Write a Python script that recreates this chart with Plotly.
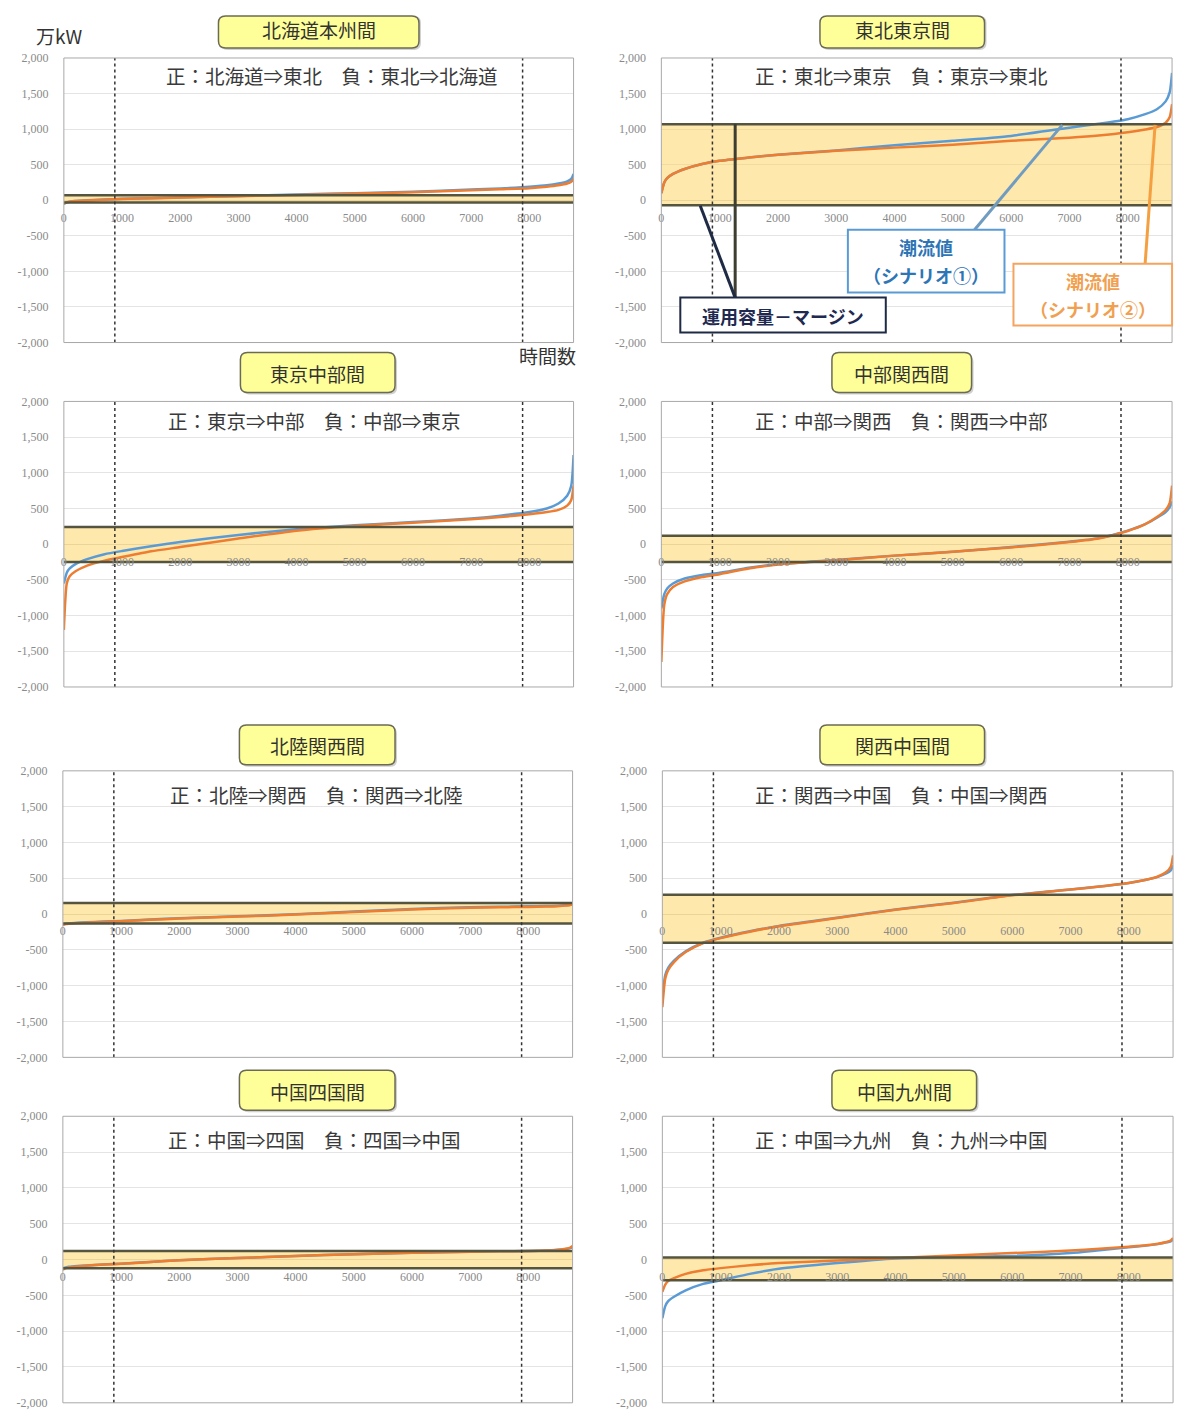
import plotly.graph_objects as go

# figure size (page offset of the body margin is 8 px)
OFF = 8
W, H = 1188, 1412

# ---------------- data ----------------
hours = [0, 50, 100, 200, 400, 700, 1000, 1500, 2000, 3000, 4000, 5000, 6000, 7000, 7500, 8000, 8300, 8500, 8650, 8720, 8760]

panel_titles = ["北海道本州間", "東北東京間", "東京中部間", "中部関西間",
                "北陸関西間", "関西中国間", "中国四国間", "中国九州間"]
direction_labels = [
    "正：北海道⇒東北　負：東北⇒北海道",
    "正：東北⇒東京　負：東京⇒東北",
    "正：東京⇒中部　負：中部⇒東京",
    "正：中部⇒関西　負：関西⇒中部",
    "正：北陸⇒関西　負：関西⇒北陸",
    "正：関西⇒中国　負：中国⇒関西",
    "正：中国⇒四国　負：四国⇒中国",
    "正：中国⇒九州　負：九州⇒中国",
]

# operating capacity minus margin (upper / lower), 万kW
band_upper = [70, 1070, 240, 120, 155, 270, 120, 30]
band_lower = [-30, -70, -250, -250, -130, -400, -120, -290]

# scenario 1 (blue) flow duration curves, 万kW
flow_s1 = [
    [-50, -30, -20, -10, 0, 10, 20, 30, 40, 60, 80, 100, 120, 150, 165, 190, 210, 235, 265, 300, 370],
    [100, 250, 310, 370, 440, 510, 555, 600, 640, 700, 775, 835, 905, 1020, 1075, 1140, 1210, 1280, 1390, 1520, 1790],
    [-550, -400, -340, -280, -210, -140, -95, -30, 30, 130, 210, 265, 310, 360, 400, 450, 500, 570, 680, 820, 1250],
    [-900, -700, -620, -550, -480, -430, -400, -330, -280, -220, -160, -105, -40, 35, 85, 190, 280, 370, 450, 520, 600],
    [-145, -135, -130, -123, -115, -105, -95, -75, -58, -30, -2, 35, 70, 97, 102, 108, 112, 117, 125, 130, 140],
    [-1150, -850, -750, -650, -520, -400, -330, -240, -165, -50, 65, 160, 265, 345, 385, 435, 480, 520, 570, 610, 680],
    [-120, -110, -100, -95, -82, -68, -58, -35, -10, 20, 50, 75, 95, 110, 115, 120, 125, 135, 148, 160, 175],
    [-820, -650, -580, -520, -430, -340, -290, -200, -130, -50, 15, 35, 50, 90, 130, 170, 195, 215, 240, 255, 280],
]
# scenario 2 (orange)
flow_s2 = [
    [-45, -30, -22, -12, -3, 8, 18, 28, 38, 58, 75, 95, 112, 140, 155, 170, 190, 210, 235, 260, 300],
    [100, 250, 310, 370, 440, 510, 555, 600, 640, 695, 740, 780, 835, 880, 910, 955, 995, 1030, 1090, 1170, 1350],
    [-1200, -550, -450, -380, -300, -230, -180, -100, -40, 80, 190, 255, 300, 350, 380, 420, 450, 480, 540, 620, 820],
    [-1650, -850, -700, -600, -520, -460, -420, -340, -285, -225, -160, -105, -45, 30, 80, 185, 280, 380, 480, 580, 820],
    [-150, -140, -135, -128, -120, -110, -100, -80, -63, -35, -7, 30, 63, 90, 95, 100, 105, 110, 120, 125, 135],
    [-1300, -900, -780, -670, -530, -405, -335, -245, -170, -55, 60, 155, 262, 342, 385, 435, 480, 525, 590, 660, 820],
    [-140, -120, -110, -100, -85, -70, -60, -35, -10, 20, 50, 75, 95, 110, 115, 120, 125, 135, 150, 165, 190],
    [-450, -350, -300, -260, -200, -150, -120, -80, -50, -15, 20, 55, 90, 125, 150, 180, 200, 220, 245, 265, 300],
]

percentile_hours = [876, 7884]          # dotted reference lines (10% / 90%)
x_ticks = [0, 1000, 2000, 3000, 4000, 5000, 6000, 7000, 8000]
y_ticks = [-2000, -1500, -1000, -500, 0, 500, 1000, 1500, 2000]
x_max = 8760

# ---------------- layout geometry (picture pixels) ----------------
plot_boxes = [  # left, top, right, bottom
    (62, 57, 573, 342), (661, 57, 1173, 342),
    (62, 401, 573, 687), (661, 401, 1173, 687),
    (61, 771, 572, 1058), (662, 771, 1174, 1058),
    (61, 1117, 572, 1404), (662, 1117, 1174, 1404),
]
title_boxes = [
    (217, 7, 418, 47), (820, 7, 985, 47),
    (239, 352, 394, 392), (832, 352, 972, 392),
    (238, 725, 394, 765), (820, 725, 985, 765),
    (238, 1071, 394, 1111), (832, 1071, 977, 1111),
]
dir_pos = [(331, 75), (902, 75), (313, 420), (902, 420),
           (315, 795), (902, 795), (313, 1140), (902, 1140)]


def page_x(x):
    return x - 1


def page_y(y):
    return max((y - 6) / 0.9917, OFF + 1)


def px(x):
    return (page_x(x) - OFF) / W


def py(y):
    return 1 - (page_y(y) - OFF) / H


def rounded_rect(l, t, r, b, rad=6):
    rx, ry = rad / W, rad / H
    x0, x1 = px(l), px(r)
    y0, y1 = py(b), py(t)
    return (f"M {x0+rx},{y1} L {x1-rx},{y1} Q {x1},{y1} {x1},{y1-ry} "
            f"L {x1},{y0+ry} Q {x1},{y0} {x1-rx},{y0} L {x0+rx},{y0} "
            f"Q {x0},{y0} {x0},{y0+ry} L {x0},{y1-ry} Q {x0},{y1} {x0+rx},{y1} Z")


FONT = "Noto Sans CJK JP"
TICKFONT = "Liberation Serif"
BAND_FILL = "rgba(255,210,90,0.50)"
BAND_LINE = "#55553f"
BLUE = "#5B9BD5"
ORANGE = "#ED7D31"

fig = go.Figure()
layout = dict(width=W, height=H, margin=dict(l=0, r=0, t=0, b=0),
              paper_bgcolor="white", plot_bgcolor="white", showlegend=False,
              font=dict(family=FONT))
shapes = []
annotations = []

for i in range(8):
    n = i + 1
    xs = "x" if n == 1 else f"x{n}"
    ys = "y" if n == 1 else f"y{n}"
    xa = "xaxis" if n == 1 else f"xaxis{n}"
    ya = "yaxis" if n == 1 else f"yaxis{n}"
    l, t, r, b = plot_boxes[i]
    ydom = [py(b), py(t)]
    layout[xa] = dict(domain=[px(l), px(r)], range=[0, x_max], anchor="free",
                      position=(ydom[0] + ydom[1]) / 2, tickvals=x_ticks,
                      showgrid=False, zeroline=False, showline=False,
                      ticks="outside", ticklen=6, tickcolor="rgba(0,0,0,0)",
                      tickfont=dict(family=TICKFONT, size=12, color="#8a8a8a"))
    layout[ya] = dict(domain=ydom, range=[-2000, 2000], anchor=xs,
                      tickvals=y_ticks, ticktext=[f"{v:,}" for v in y_ticks],
                      showgrid=True, gridcolor="#e4e4e4", gridwidth=1,
                      zeroline=True, zerolinecolor="#d6d6d6", zerolinewidth=1,
                      showline=False, ticks="outside", ticklen=12,
                      tickcolor="rgba(0,0,0,0)",
                      tickfont=dict(family=TICKFONT, size=12, color="#8a8a8a"))

    # band fill
    fig.add_trace(go.Scatter(x=[0, x_max], y=[band_lower[i]] * 2, mode="lines",
                             line=dict(width=0), xaxis=xs, yaxis=ys, hoverinfo="skip"))
    fig.add_trace(go.Scatter(x=[0, x_max], y=[band_upper[i]] * 2, mode="lines",
                             line=dict(width=0), fill="tonexty", fillcolor=BAND_FILL,
                             xaxis=xs, yaxis=ys, hoverinfo="skip"))
    # flow curves
    fig.add_trace(go.Scatter(x=hours, y=flow_s1[i], mode="lines",
                             line=dict(color=BLUE, width=2.5, shape="spline", smoothing=0.6),
                             xaxis=xs, yaxis=ys, name="シナリオ①"))
    fig.add_trace(go.Scatter(x=hours, y=flow_s2[i], mode="lines",
                             line=dict(color=ORANGE, width=2.5, shape="spline", smoothing=0.6),
                             xaxis=xs, yaxis=ys, name="シナリオ②"))
    # band boundary lines
    for v in (band_upper[i], band_lower[i]):
        fig.add_trace(go.Scatter(x=[0, x_max], y=[v, v], mode="lines",
                                 line=dict(color=BAND_LINE, width=2.5),
                                 xaxis=xs, yaxis=ys, hoverinfo="skip"))
    # dotted percentile lines
    for hx in percentile_hours:
        shapes.append(dict(type="line", xref=xs, yref=f"{ys} domain", x0=hx, x1=hx,
                           y0=0, y1=1, line=dict(color="#333333", width=1.5, dash="dot"),
                           layer="above"))
    # plot border
    shapes.append(dict(type="rect", xref=f"{xs} domain", yref=f"{ys} domain",
                       x0=0, x1=1, y0=0, y1=1, line=dict(color="#a8a8a8", width=1),
                       layer="above"))
    # title box (with soft shadow)
    tl, tt, tr, tb = title_boxes[i]
    shapes.append(dict(type="path", xref="paper", yref="paper",
                       path=rounded_rect(tl + 2, tt + 2, tr + 2, tb + 2, 7),
                       fillcolor="rgba(120,120,120,0.35)", line=dict(width=0), layer="above"))
    shapes.append(dict(type="path", xref="paper", yref="paper",
                       path=rounded_rect(tl, tt, tr, tb, 7),
                       fillcolor="#FFFF99", line=dict(color="#6b6b55", width=1.5),
                       layer="above"))
    annotations.append(dict(xref="paper", yref="paper", x=px((tl + tr) / 2),
                            y=py((tt + tb) / 2 + 1), text=panel_titles[i], showarrow=False,
                            xanchor="center", yanchor="middle",
                            font=dict(family=FONT, size=19, color="#333333")))
    dx, dy = dir_pos[i]
    annotations.append(dict(xref="paper", yref="paper", x=px(dx), y=py(dy),
                            text=direction_labels[i], showarrow=False,
                            xanchor="center", yanchor="middle",
                            font=dict(family=FONT, size=19.5, color="#3a3a3a")))

# unit labels
annotations.append(dict(xref="paper", yref="paper", x=px(57), y=py(34), text="万kW",
                        showarrow=False, xanchor="center", yanchor="middle",
                        font=dict(family=FONT, size=19, color="#333333")))
annotations.append(dict(xref="paper", yref="paper", x=px(547), y=py(355), text="時間数",
                        showarrow=False, xanchor="center", yanchor="middle",
                        font=dict(family=FONT, size=19, color="#333333")))

# callouts in panel 2
callouts = [
    # (box l,t,r,b, border, text lines with y centers, text color)
    ((848, 229, 1005, 292), "#5B9BD5", [("潮流値", 246), ("（シナリオ①）", 274)], "#2E75B6"),
    ((1014, 263, 1173, 325), "#F4A460", [("潮流値", 280), ("（シナリオ②）", 308)], "#F0A050"),
    ((680, 297, 886, 332), "#1F2A44", [("運用容量－マージン", 315)], "#1F2A50"),
]
leader_lines = [
    ((975, 229), (1063, 124), "#6f9cc0"),
    ((1146, 263), (1156, 124), "#F4A040"),
    ((735, 297), (735, 123), "#3d3d30"),
    ((735, 297), (700, 205), "#1F2A44"),
]
for (a, b2, c) in leader_lines:
    shapes.append(dict(type="line", xref="paper", yref="paper", x0=px(a[0]), y0=py(a[1]),
                       x1=px(b2[0]), y1=py(b2[1]), line=dict(color=c, width=3), layer="above"))
for (box, bc, lines, tc) in callouts:
    l, t, r, b = box
    shapes.append(dict(type="rect", xref="paper", yref="paper", x0=px(l), x1=px(r),
                       y0=py(b), y1=py(t), fillcolor="white", line=dict(color=bc, width=2),
                       layer="above"))
    for txt, cy in lines:
        annotations.append(dict(xref="paper", yref="paper", x=px((l + r) / 2), y=py(cy),
                                text=f"<b>{txt}</b>", showarrow=False,
                                xanchor="center", yanchor="middle",
                                font=dict(family=FONT, size=18, color=tc)))

layout["shapes"] = shapes
layout["annotations"] = annotations
fig.update_layout(**layout)
fig.write_html("out.html")
